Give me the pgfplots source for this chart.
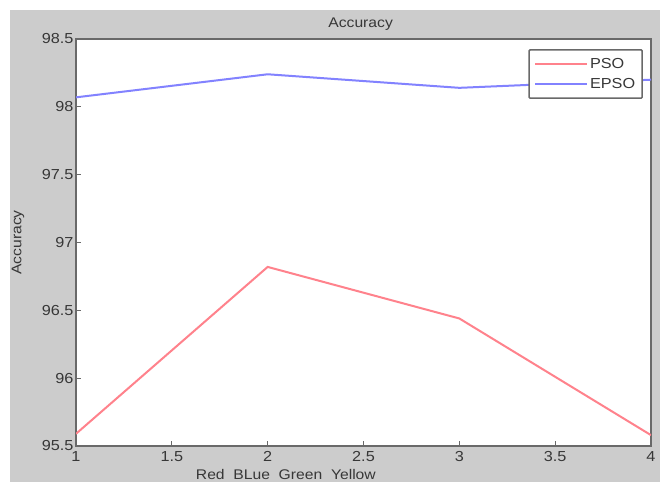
\documentclass[border=0pt]{standalone}
\usepackage{fontspec}
\setmainfont{Liberation Sans}[FakeStretch=1.12]
\usepackage{pgfplots}
\pgfplotsset{compat=1.18}
\definecolor{bggray}{RGB}{204,204,204}
\definecolor{txtgray}{RGB}{55,55,55}
\definecolor{axgray}{RGB}{105,105,105}
\definecolor{psored}{RGB}{255,130,140}
\definecolor{epsoblue}{RGB}{130,130,255}
\begin{document}
\begin{tikzpicture}[x=1pt,y=1pt]
\useasboundingbox (0,0) rectangle (660,482);
\fill[white] (0,0) rectangle (660,482);
\fill[bggray] (10,0) rectangle (660,472);
\begin{axis}[
  at={(76pt,36pt)}, anchor=south west,
  scale only axis, width=575pt, height=407pt,
  xmin=1, xmax=4, ymin=95.5, ymax=98.5,
  xtick={1,1.5,2,2.5,3,3.5,4},
  ytick={95.5,96,96.5,97,97.5,98,98.5},
  axis background/.style={fill=white},
  axis line style={draw=axgray, line width=1.5pt},
  tick style={draw=axgray, line width=1pt},
  major tick length=5pt,
  xtick pos=left, ytick pos=left,
  tick align=inside,
  /pgf/number format/assume math mode=true,
  tick label style={font=\fontsize{14.5}{16}\selectfont, text=txtgray},
  xticklabel style={yshift=-2pt},
  yticklabel style={xshift=1pt},
  title={Accuracy},
  title style={font=\fontsize{14}{16}\selectfont, text=txtgray, at={(axis description cs:0.495,1)}, anchor=center, yshift=9pt},
  xlabel={Red\ \ BLue\ \ Green\ \ Yellow},
  xlabel style={font=\fontsize{14}{16}\selectfont, text=txtgray, at={(axis description cs:0.365,0)}, anchor=center, yshift=-28pt},
  ylabel={Accuracy},
  ylabel style={font=\fontsize{14}{16}\selectfont, text=txtgray, at={(axis description cs:-0.1009,0.5)}, anchor=center},
  legend style={at={(axis description cs:0.986,0.975)}, anchor=north east,
    draw=axgray, line width=1.5pt, fill=white, rounded corners=1pt,
    font=\fontsize{14.5}{16}\selectfont, text=txtgray,
    row sep=5pt, inner ysep=6pt, inner xsep=5pt},
  legend cell align=left,
  legend image code/.code={\draw[#1, line width=2pt] (0pt,0pt) -- (52pt,0pt);},
]
\addplot[psored, line width=2pt] coordinates {(1,95.59) (2,96.82) (3,96.44) (4,95.58)};
\addplot[epsoblue, line width=2pt] coordinates {(1,98.07) (2,98.24) (3,98.14) (4,98.20)};
\legend{PSO,EPSO}
\end{axis}
\end{tikzpicture}
\end{document}
